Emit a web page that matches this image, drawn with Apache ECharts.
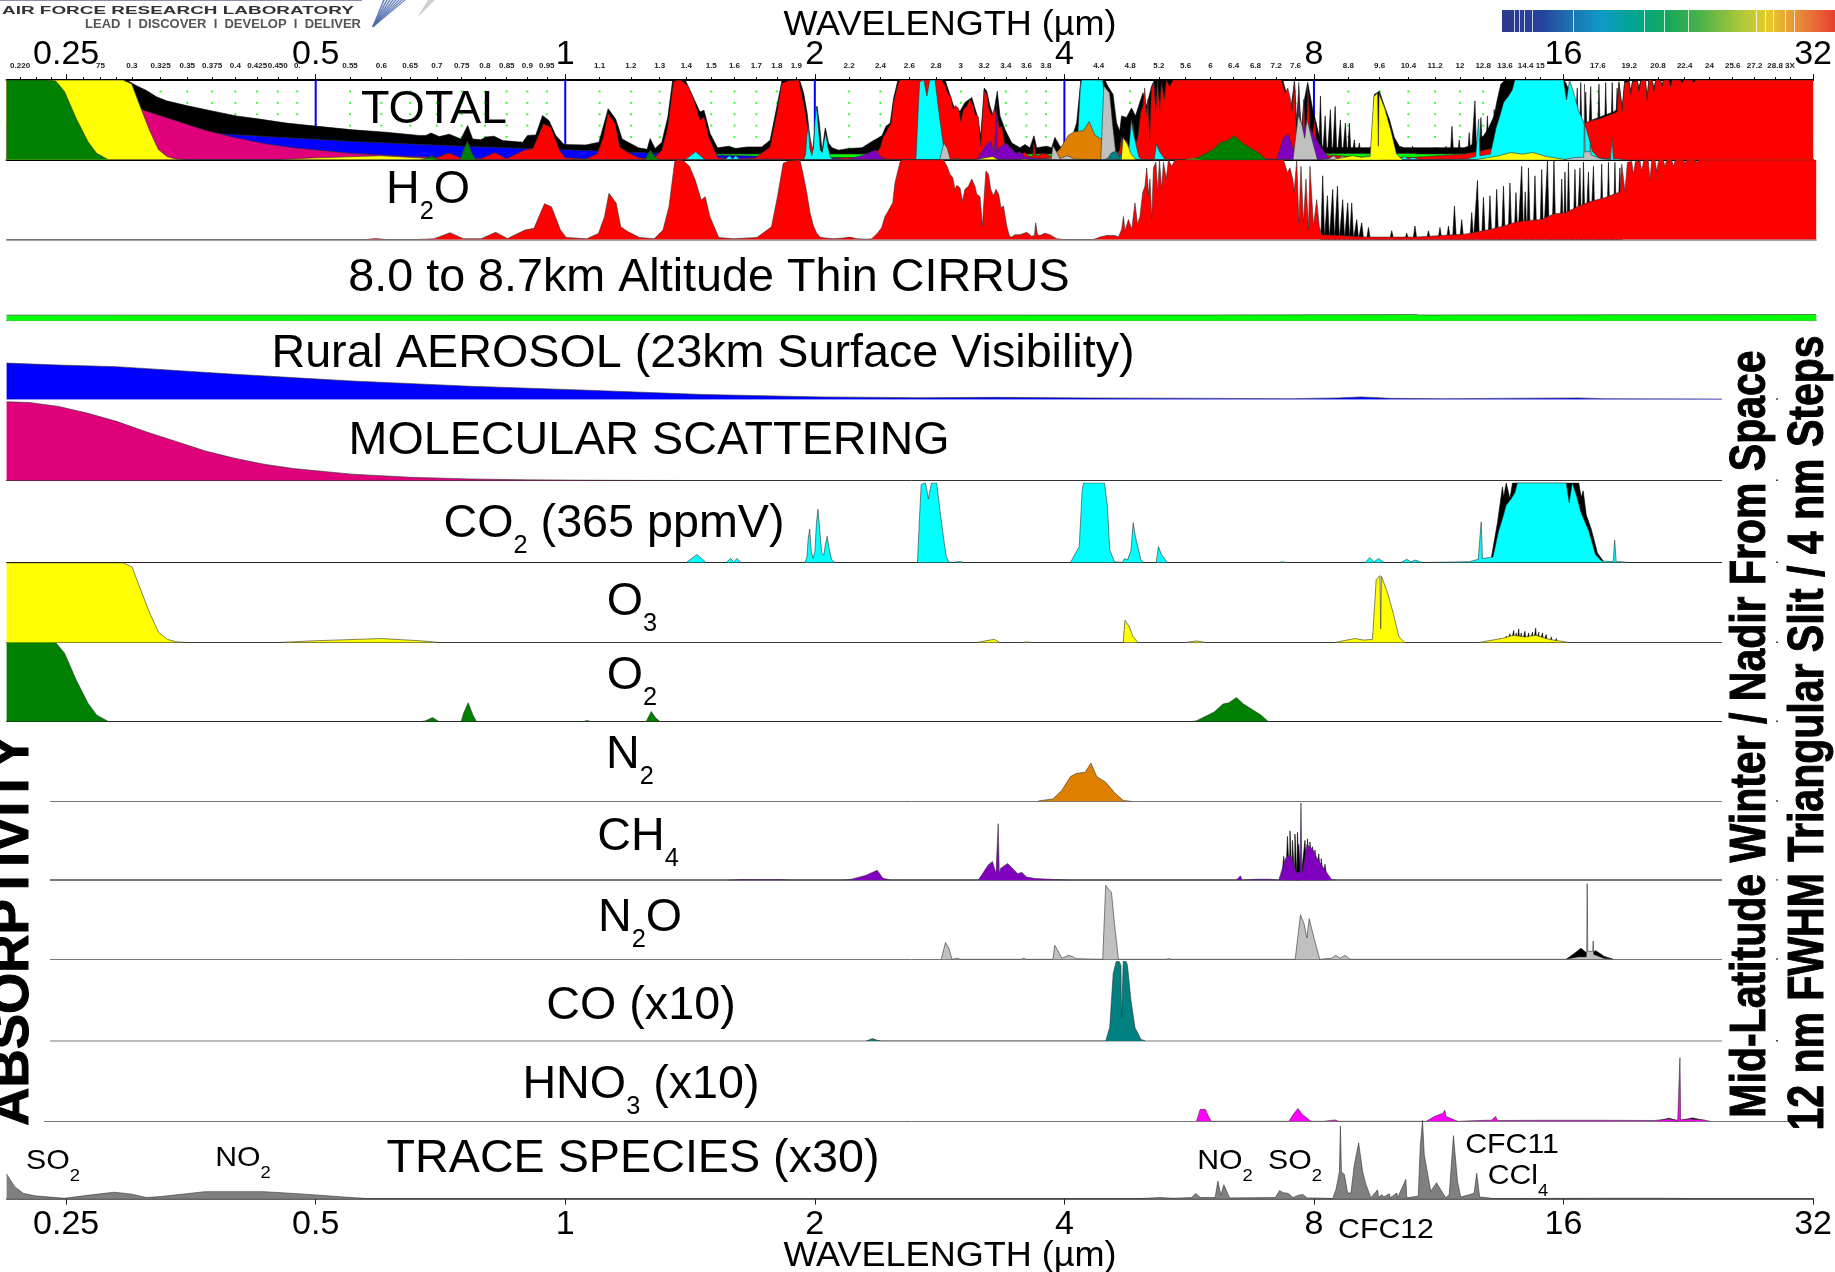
<!DOCTYPE html>
<html><head><meta charset="utf-8"><title>Atmospheric absorptivity</title>
<style>html,body{margin:0;padding:0;background:#fff}#c{width:1835px;height:1272px}</style>
<script src="https://cdn.jsdelivr.net/npm/echarts@6/dist/echarts.min.js"></script>
</head><body><div id="c"></div>
<script>
// All spectra: pairs [log2(wavelength in µm), absorptivity 0..1].
const h2oBody=[[-2.2385,0],[-.8,0],[-.763,.012],[-.72,0],[-.6,0],[-.528,.01],[-.465,.085],[-.411,.01],[-.34,.01],[-.282,.09],[-.235,.012],[-.165,.118],[-.129,.14],[-.087,.45],[-.059,.41],[-.023,.118],[0,.025],[.082,.01],[.129,.076],[.153,.286],[.171,.58],[.2,.454],[.218,.16],[.246,.1],[.293,.025],[.352,.01],[.387,.118],[.411,.41],[.434,.98],[.45,1],[.469,.99],[.493,.92],[.516,.748],[.54,.496],[.556,.538],[.575,.286],[.61,.025],[.669,.01],[.763,.025],[.821,.16],[.845,.538],[.868,.958],[.892,.99],[.935,1],[.949,.8],[.962,.59],[.975,.34],[.989,.17],[1.002,.08],[1.015,.03],[1.035,.02],[1.069,.01],[1.109,.02],[1.135,.03],[1.162,.01],[1.202,.004],[1.222,.01],[1.245,.08],[1.262,.15],[1.275,.29],[1.285,.34],[1.295,.4],[1.306,.46],[1.315,.71],[1.335,.97],[1.342,1],[1.509,1],[1.522,.93],[1.535,.82],[1.546,.78],[1.555,.63],[1.562,.68],[1.575,.65],[1.585,.48],[1.595,.63],[1.609,.67],[1.622,.76],[1.635,.67],[1.642,.57],[1.655,.54],[1.665,.17],[1.671,.5],[1.679,.86],[1.689,.82],[1.698,.63],[1.709,.55],[1.719,.63],[1.73,.57],[1.739,.4],[1.749,.42],[1.762,.17],[1.773,.04],[1.782,.03],[1.795,.06],[1.815,.06],[1.842,.09],[1.862,.04],[1.873,.05],[1.878,.21],[1.885,.06],[1.895,.05],[1.915,.08],[1.935,.06],[1.962,.01],[1.989,0],[2.109,0],[2.135,.03],[2.162,.05],[2.195,.05],[2.209,.03],[2.222,.13],[2.229,.29],[2.235,.11],[2.249,.25],[2.262,.13],[2.275,.46],[2.285,.19],[2.295,.29],[2.306,.59],[2.315,.67],[2.322,.9],[2.329,.57],[2.335,.76],[2.342,.25],[2.349,.9],[2.359,.97],[2.366,.59],[2.373,.99],[2.382,.63],[2.389,.97],[2.4,.76],[2.409,1],[2.422,.92],[2.435,1],[2.869,1],[2.885,.84],[2.895,.9],[2.906,.76],[2.912,.61],[2.922,.99],[2.931,.21],[2.939,.92],[2.949,.21],[2.959,.76],[2.969,.13],[2.975,.92],[2.989,.17],[3.002,.5],[3.012,.17],[3.022,.06],[3.1,.05],[3.2,.03],[3.3,.03],[3.4,.03],[3.5,.05],[3.6,.07],[3.65,.1],[3.7,.13],[3.75,.17],[3.8,.22],[3.85,.24],[3.9,.25],[3.95,.32],[4,.34],[4.05,.42],[4.1,.48],[4.15,.52],[4.2,.58],[4.215,.6],[4.222,.95],[4.235,.61],[4.245,.97],[4.262,.98],[4.269,.82],[4.277,.98],[4.295,.99],[4.302,.86],[4.31,.99],[4.328,1],[4.335,.75],[4.342,1],[4.355,1],[4.362,.86],[4.37,1],[4.388,1],[4.395,.92],[4.402,1],[4.422,1],[4.429,.92],[4.436,1],[4.468,1],[4.475,.96],[4.482,1],[4.515,1],[4.522,.97],[4.529,1],[4.608,1],[4.615,.98],[4.622,1],[5,1]];
const h2oStems=[[3.026,.8],[3.045,.55],[3.066,.63],[3.085,.67],[3.106,.5],[3.126,.46],[3.142,.46],[3.162,.25],[3.182,.21],[3.209,.15],[3.302,.11],[3.362,.08],[3.395,.17],[3.449,.11],[3.495,.15],[3.529,.17],[3.553,.42],[3.582,.25],[3.622,.34],[3.645,.74],[3.669,.53],[3.695,.55],[3.722,.63],[3.749,.67],[3.775,.71],[3.799,.59],[3.822,.92],[3.836,.6],[3.849,.9],[3.875,.8],[3.902,.88],[3.925,.99],[3.951,.99],[3.982,.76],[3.995,.85],[4.009,.97],[4.035,.88],[4.055,.9],[4.069,.97],[4.089,.85],[4.109,.92],[4.142,.95],[4.169,.97],[4.195,.97],[4.215,.9]];
const total=[[-2.2385,1],[-1.785,1],[-1.752,.99],[-1.718,.93],[-1.678,.87],[-1.638,.79],[-1.598,.74],[-1.518,.68],[-1.411,.61],[-1.318,.55],[-1.225,.51],[-1.118,.46],[-1.011,.425],[-.851,.375],[-.718,.345],[-.585,.305],[-.558,.305],[-.538,.335],[-.505,.29],[-.465,.32],[-.418,.26],[-.391,.43],[-.371,.26],[-.338,.25],[-.318,.285],[-.285,.295],[-.251,.24],[-.171,.22],[-.151,.305],[-.118,.31],[-.091,.555],[-.065,.49],[-.038,.305],[-.005,.19],[.082,.185],[.135,.22],[.172,.64],[.202,.51],[.228,.26],[.293,.15],[.328,.13],[.34,.265],[.36,.14],[.387,.22],[.411,.535],[.43,.99],[.481,1],[.516,.76],[.54,.6],[.556,.62],[.58,.33],[.61,.15],[.657,.17],[.681,.14],[.728,.16],[.787,.16],[.821,.245],[.845,.62],[.868,.99],[.939,1],[.955,.84],[.969,.59],[.982,.23],[.991,.07],[1.009,.67],[1.018,.46],[1.029,.11],[1.042,.4],[1.055,.21],[1.069,.15],[1.095,.12],[1.135,.14],[1.189,.15],[1.229,.23],[1.269,.3],[1.285,.42],[1.302,.46],[1.315,.76],[1.333,1],[1.522,1],[1.549,.74],[1.559,.65],[1.582,.61],[1.602,.72],[1.629,.78],[1.649,.57],[1.665,.3],[1.679,.9],[1.689,.86],[1.702,.67],[1.715,.55],[1.731,.86],[1.742,.55],[1.762,.38],[1.789,.21],[1.822,.15],[1.842,.19],[1.862,.15],[1.878,.3],[1.889,.15],[1.929,.17],[1.949,.15],[1.962,.28],[1.982,.17],[1.995,.13],[2.022,.19],[2.049,.46],[2.066,1],[2.162,1],[2.175,.92],[2.195,.82],[2.209,.46],[2.222,.36],[2.229,.55],[2.249,.53],[2.269,.65],[2.285,.55],[2.302,.72],[2.315,.84],[2.329,.67],[2.349,.92],[2.359,.99],[2.435,1],[2.875,1],[2.889,.84],[2.909,.67],[2.922,.99],[2.931,.46],[2.939,.88],[2.949,.38],[2.962,.76],[2.975,.97],[2.995,.63],[3.009,.46],[3.022,.28],[3.035,.15],[3.222,.15],[3.231,.17],[3.242,.82],[3.262,.86],[3.285,.65],[3.302,.51],[3.322,.28],[3.342,.17],[3.362,.15],[3.6,.15],[3.622,.17],[3.64,.2],[3.66,.25],[3.68,.3],[3.7,.4],[3.722,.55],[3.735,.76],[3.749,.95],[3.762,.99],[3.809,1],[4.002,1],[4.022,.88],[4.049,.67],[4.069,.55],[4.089,.3],[4.105,.27],[4.115,.5],[4.2,.6],[4.215,.63],[4.222,.98],[4.235,.65],[4.245,.99],[4.262,1],[4.269,.86],[4.277,1],[4.295,1],[4.302,.9],[4.31,1],[4.328,1],[4.335,.79],[4.342,1],[4.355,1],[4.362,.9],[4.37,1],[4.388,1],[4.395,.95],[4.402,1],[5,1]];
const cirrus=[[-2.2385,.07],[2.58,.072],[2.585,.078],[3.4,.078],[3.41,.072],[3.465,.072],[3.47,.078],[5,.078]];
const aerosol=[[-2.2385,.455],[-2.03,.43],[-1.8,.41],[-1.326,.315],[-.857,.23],[-.387,.165],[.082,.115],[.55,.06],[1.02,.03],[1.415,.02],[1.712,.025],[2.1,.017],[2.9,.008],[3.085,.017],[3.18,.03],[3.296,.012],[3.507,.008],[4.047,.017],[4.153,.008],[4.62,.004],[5,.004]];
const molecular=[[-2.2385,.99],[-2.148,.98],[-2.03,.93],[-1.913,.845],[-1.796,.74],[-1.678,.61],[-1.56,.49],[-1.443,.37],[-1.326,.28],[-1.209,.205],[-1.091,.15],[-.857,.08],[-.622,.04],[-.387,.02],[-.153,.008],[.2,.002],[.5,0]];
const co2=[[.48,0],[.523,.1],[.56,0],[.64,0],[.657,.05],[.67,.01],[.683,.05],[.7,0],[.955,0],[.963,.07],[.968,.3],[.974,.42],[.98,.14],[.988,.05],[.995,.15],[1.001,.5],[1.007,.67],[1.013,.45],[1.022,.12],[1.03,.09],[1.038,.25],[1.044,.33],[1.052,.17],[1.062,.03],[1.075,0],[1.405,0],[1.413,.55],[1.42,.98],[1.427,1],[1.437,1],[1.443,.9],[1.449,.8],[1.455,.9],[1.461,1],[1.482,1],[1.495,.65],[1.512,.25],[1.52,.08],[1.53,.01],[1.54,0],[1.575,.012],[1.59,0],[2.017,0],[2.052,.2],[2.064,.91],[2.069,1],[2.153,1],[2.165,.7],[2.174,.16],[2.193,.01],[2.225,0],[2.233,.05],[2.245,.03],[2.259,.15],[2.268,.5],[2.277,.32],[2.299,.03],[2.31,0],[2.36,0],[2.369,.2],[2.381,.1],[2.404,0],[2.85,0],[2.865,.01],[2.88,0],[3.195,0],[3.214,.06],[3.232,.01],[3.249,.05],[3.272,0],[3.34,0],[3.362,.04],[3.378,.01],[3.397,.03],[3.425,0],[3.613,.01],[3.648,.04],[3.656,.04],[3.66,.51],[3.665,.05],[3.707,.07],[3.73,.4],[3.745,.55],[3.76,.72],[3.78,.8],[3.795,.88],[3.805,1],[4,1],[4.012,.75],[4.024,1],[4.04,.85],[4.06,.62],[4.09,.4],[4.117,.1],[4.141,.02],[4.188,.01],[4.194,.28],[4.2,.01],[4.22,.01],[4.25,0]];
const co2Upper=[[3.7,.05],[3.725,.5],[3.745,.95],[3.75,.82],[3.76,1],[3.775,.8],[3.785,1],[4.05,1],[4.06,.82],[4.068,.9],[4.08,.6],[4.1,.42],[4.125,.12],[4.15,.01]];
const o3=[[-2.2385,1],[-1.772,1],[-1.737,.95],[-1.702,.66],[-1.666,.37],[-1.631,.13],[-1.596,.04],[-1.561,.01],[-1.514,0],[-1.15,0],[-1.021,.02],[-.739,.05],[-.575,.02],[-.505,0],[1.641,0],[1.712,.04],[1.735,0],[1.825,0],[1.841,.008],[1.86,0],[2.2,0],[2.228,0],[2.235,.28],[2.252,.2],[2.268,.07],[2.287,0],[2.475,0],[2.522,.02],[2.56,0],[3.073,0],[3.155,.05],[3.19,.03],[3.225,.04],[3.24,.79],[3.255,.84],[3.258,.17],[3.261,.83],[3.284,.64],[3.308,.37],[3.331,.07],[3.355,0],[3.648,0],[3.742,.05],[3.789,.09],[3.836,.07],[3.878,.09],[3.93,.04],[4.012,0]];
const o3Stems=[[3.735,.05],[3.76,.08],[3.775,.11],[3.79,.15],[3.8,.12],[3.81,.17],[3.82,.12],[3.835,.14],[3.85,.12],[3.865,.13],[3.878,.18],[3.89,.13],[3.905,.12],[3.92,.1],[3.94,.07],[3.96,.05]];
const o2=[[-2.2385,1],[-2.077,1],[-2.042,.99],[-2.007,.86],[-1.96,.52],[-1.913,.23],[-1.878,.08],[-1.831,0],[-.58,0],[-.563,.008],[-.535,.05],[-.509,0],[-.42,0],[-.411,.1],[-.392,.235],[-.373,.08],[-.359,0],[.07,0],[.082,.012],[.1,0],[.32,0],[.34,.125],[.359,.04],[.375,0],[2.5,0],[2.521,.008],[2.592,.12],[2.627,.22],[2.651,.235],[2.681,.3],[2.709,.22],[2.744,.15],[2.78,.08],[2.808,0]];
const n2=[[1.888,.004],[1.947,.03],[1.982,.135],[2.017,.31],[2.04,.35],[2.076,.365],[2.099,.48],[2.122,.31],[2.158,.24],[2.193,.11],[2.228,.01],[2.259,0]];
const ch4=[[.65,0],[.704,.008],[.856,.008],[.9,0],[1.1,0],[1.138,.01],[1.197,.06],[1.244,.125],[1.267,.025],[1.3,0],[1.648,0],[1.688,.19],[1.705,.235],[1.719,.08],[1.725,.09],[1.728,.71],[1.732,.09],[1.738,.15],[1.766,.21],[1.806,.08],[1.822,.1],[1.841,.04],[1.876,.02],[2.02,0],[2.68,0],[2.697,.055],[2.703,0],[2.756,.012],[2.815,.012],[2.85,0],[2.878,.28],[2.897,.32],[2.92,.1],[2.935,.1],[2.939,.97],[2.943,.1],[2.948,.15],[2.963,.45],[2.986,.39],[3.003,.28],[3.026,.17],[3.061,.01],[3.08,0]];
const ch4Stems=[[2.87,.3],[2.885,.55],[2.895,.62],[2.905,.5],[2.915,.58],[2.925,.6],[2.93,.45],[2.955,.5],[2.965,.52],[2.975,.48],[2.985,.42],[2.995,.38],[3.01,.33],[3.02,.27],[3.035,.2]];
const n2o=[[1.5,0],[1.517,.21],[1.531,.14],[1.543,0],[1.564,.013],[1.578,0],[1.82,0],[1.829,.013],[1.84,0],[1.947,0],[1.954,.175],[1.965,.12],[1.982,.013],[2.01,.05],[2.024,.035],[2.04,.008],[2.146,0],[2.158,.93],[2.17,.88],[2.181,.84],[2.193,.45],[2.209,0],[2.4,0],[2.409,.009],[2.42,0],[2.916,0],[2.937,.56],[2.951,.45],[2.963,.27],[2.972,.51],[2.991,.27],[3.014,0],[3.061,.013],[3.078,.05],[3.096,.013],[3.115,.05],[3.136,0],[4,0],[4.047,.03],[4.08,.03],[4.082,.1],[4.084,.95],[4.086,.1],[4.106,.1],[4.108,.23],[4.11,.06],[4.153,.01],[4.19,0]];
const n2oUpper=[[4,0],[4.035,.08],[4.059,.14],[4.082,.08],[4.095,.055],[4.117,.11],[4.153,.035],[4.188,0]];
const co=[[1.2,0],[1.208,.013],[1.225,.03],[1.245,.008],[1.26,0],[2.158,0],[2.174,.17],[2.188,.85],[2.2,1],[2.212,1],[2.219,.95],[2.221,.3],[2.223,.45],[2.228,1],[2.24,1],[2.245,.95],[2.259,.51],[2.275,.17],[2.299,.02],[2.317,0]];
const hno3=[[2.521,0],[2.536,.15],[2.557,.15],[2.568,.07],[2.58,0],[2.89,0],[2.916,.12],[2.927,.16],[2.944,.09],[2.979,0],[3.03,0],[3.038,.017],[3.075,.017],[3.09,0],[3.44,0],[3.472,.06],[3.507,.1],[3.514,.14],[3.52,.06],[3.554,.017],[3.566,0],[3.68,.013],[3.7,.013],[3.718,.06],[3.725,.01],[3.918,.013],[3.99,.013],[4.082,.013],[4.117,.013],[4.352,.01],[4.411,.03],[4.446,.01],[4.452,.01],[4.455,.8],[4.458,.017],[4.493,.03],[4.552,.017],[4.575,0]];
const hno3Upper=[[4.375,.01],[4.411,.038],[4.44,.013],[4.47,.017],[4.505,.043],[4.552,.01]];
const trace=[[-2.2385,.31],[-2.206,.15],[-2.171,.065],[-2.124,.035],[-2.007,.004],[-1.89,.05],[-1.807,.08],[-1.737,.056],[-1.678,.013],[-1.62,.026],[-1.443,.087],[-1.208,.087],[-1.044,.056],[-.857,.013],[-.786,0],[2.3,0],[2.381,.013],[2.44,.004],[2.51,.013],[2.526,.065],[2.545,.013],[2.604,.013],[2.615,.22],[2.627,.043],[2.639,.174],[2.662,.009],[2.845,.013],[2.862,.1],[2.878,.074],[2.897,.065],[2.916,.013],[2.939,.043],[2.956,.052],[2.972,.009],[3.05,.004],[3.075,0],[3.088,.11],[3.095,.22],[3.102,.34],[3.106,.91],[3.11,.34],[3.122,.3],[3.135,.07],[3.148,.07],[3.162,.43],[3.179,.7],[3.195,.34],[3.208,.18],[3.228,.01],[3.255,.11],[3.259,.01],[3.271,.05],[3.28,.02],[3.302,.06],[3.306,.01],[3.332,.07],[3.335,.01],[3.368,.24],[3.372,.01],[3.395,.02],[3.418,.03],[3.426,.66],[3.435,.98],[3.442,.55],[3.448,.53],[3.468,.09],[3.491,.2],[3.508,.11],[3.528,.01],[3.542,.05],[3.559,.79],[3.575,.22],[3.588,.02],[3.625,.05],[3.642,.07],[3.652,.32],[3.664,.02],[3.695,.01],[3.722,0],[4.2,.005],[4.4,.005],[4.5,0],[5,0]];

const majorTicks=[0.25,0.5,1,2,4,8,16,32];
const minorTickValues=[0.22,0.23,0.24,0.2625,0.275,0.2875,0.3,0.325,0.35,0.375,0.4,0.425,0.45,0.475,0.55,0.6,0.65,0.7,0.75,0.8,0.85,0.9,0.95,1.1,1.2,1.3,1.4,1.5,1.6,1.7,1.8,1.9,2.2,2.4,2.6,2.8,3,3.2,3.4,3.6,3.8,4.4,4.8,5.2,5.6,6,6.4,6.8,7.2,7.6,8.8,9.6,10.4,11.2,12,12.8,13.6,14.4,15,17.6,19.2,20.8,22.4,24,25.6,27.2,28.8,30];
const minorLabelValues=[0.22,0.275,0.3,0.325,0.35,0.375,0.4,0.425,0.45,0.475,0.55,0.6,0.65,0.7,0.75,0.8,0.85,0.9,0.95,1.1,1.2,1.3,1.4,1.5,1.6,1.7,1.8,1.9,2.2,2.4,2.6,2.8,3,3.2,3.4,3.6,3.8,4.4,4.8,5.2,5.6,6,6.4,6.8,7.2,7.6,8.8,9.6,10.4,11.2,12,12.8,13.6,14.4,15,17.6,19.2,20.8,22.4,24,25.6,27.2,28.8,30];
const minorLabelText=['0.220','75','0.3','0.325','0.35','0.375','0.4','0.425','0.450','0.','0.55','0.6','0.65','0.7','0.75','0.8','0.85','0.9','0.95','1.1','1.2','1.3','1.4','1.5','1.6','1.7','1.8','1.9','2.2','2.4','2.6','2.8','3','3.2','3.4','3.6','3.8','4.4','4.8','5.2','5.6','6','6.4','6.8','7.2','7.6','8.8','9.6','10.4','11.2','12','12.8','13.6','14.4','15','17.6','19.2','20.8','22.4','24','25.6','27.2','28.8','3X'];
const blueLines=[0.5,1,2,4,8];
const dotRows=[1/7,2/7,3/7,4/7,5/7,6/7];

const XMIN=Math.pow(2,-2.2385), XMAX=32;
const toXY=(pts,k)=>pts.map(p=>[Math.pow(2,p[0]),p[1]*(k||1)]);
// narrow unresolved lines: each one drawn as a sharp spike from the axis
const stems=(list,w)=>{const out=[];list.forEach(p=>out.push([p[0]-w,0],[p[0],p[1]],[p[0]+w,0]));return out;};
const h2oStemPts=stems(h2oStems,.0075), o3StemPts=stems(o3Stems,.004), ch4StemPts=stems(ch4Stems,.0085);
const C={h2o:'#ff0000',co2:'#00ffff',o3:'#ffff00',o2:'#008000',n2:'#e08000',ch4:'#8000c0',n2o:'#c0c0c0',co:'#008080',hno3:'#ff00ff',trace:'#808080',mol:'#e0007c',aer:'#0000ff',cir:'#00ff00'};
// panels: baseline pixel, axis-line colour/width, area layers back to front [points,colour,factor]
const panels=[
 {base:159.7,line:'#000',w:2,layers:[[total,'#000'],[h2oStemPts,'#000'],[cirrus,C.cir],[aerosol,C.aer],[molecular,C.mol],[h2oBody,C.h2o],[co2,C.co2],[n2,C.n2],[ch4,C.ch4],[n2o,C.n2o],[co,C.co,.1],[o3,C.o3],[o2,C.o2]]},
 {base:239.5,line:'#888',w:1.5,layers:[[h2oStemPts,'#000'],[h2oBody,C.h2o]]},
 {base:320.7,line:'#888',w:1,layers:[[cirrus,C.cir]]},
 {base:399.3,line:'#aaf',w:1,layers:[[aerosol,C.aer]]},
 {base:480.5,line:'#333',w:1,layers:[[molecular,C.mol]]},
 {base:562.5,line:'#222',w:1.2,layers:[[co2Upper,'#000'],[co2,C.co2]]},
 {base:642.5,line:'#444',w:1.2,layers:[[o3StemPts,'#000'],[o3,C.o3]]},
 {base:721.5,line:'#222',w:1.2,layers:[[o2,C.o2]]},
 {base:801.3,line:'#777',w:1,layers:[[n2,C.n2]]},
 {base:880.2,line:'#777',w:2,layers:[[ch4StemPts,'#000'],[ch4,C.ch4]]},
 {base:959.3,line:'#777',w:1,layers:[[n2oUpper,'#000'],[n2o,C.n2o]]},
 {base:1041,line:'#bbb',w:2,layers:[[co,C.co]]},
 {base:1121.3,line:'#777',w:1,layers:[[hno3Upper,'#000'],[hno3,C.hno3]]},
 {base:1198.6,line:'#333',w:1.5,layers:[[trace,C.trace]]}
];
const H=79.6;
const grids=[],xAxes=[],yAxes=[],series=[];
panels.forEach((p,i)=>{
  grids.push({left:6.6,right:18.8,top:p.base-H,height:H});
  const last=i===panels.length-1;
  xAxes.push({type:'log',logBase:2,gridIndex:i,min:XMIN,max:XMAX,position:'bottom',
    axisLine:{show:true,onZero:false,lineStyle:{color:p.line,width:p.w}},
    axisTick:{show:last,customValues:majorTicks,length:6,inside:false,lineStyle:{color:'#222'}},
    minorTick:{show:false},splitLine:{show:false},
    axisLabel:{show:last,customValues:majorTicks,fontFamily:'Liberation Sans',fontSize:34,color:'#000',margin:9,formatter:v=>String(+(+v).toFixed(2))}});
  yAxes.push({type:'value',gridIndex:i,min:0,max:1,show:false,splitLine:{show:false}});
  p.layers.forEach((l,k)=>{
    series.push({type:'line',xAxisIndex:i,yAxisIndex:i,data:toXY(l[0],l[2]),showSymbol:false,silent:true,animation:false,z:3+k,
      lineStyle:{color:l[1]==='#000'?'#000':'#333',width:.6},areaStyle:{color:l[1],opacity:1},itemStyle:{color:l[1]}});
  });
});
// TOTAL panel decorations behind the spectra
const dots=[];minorTickValues.filter(v=>v>=0.325).forEach(v=>dotRows.forEach(r=>dots.push([v,r])));
series.push({type:'scatter',xAxisIndex:0,yAxisIndex:0,data:dots,symbol:'rect',symbolSize:2,silent:true,z:1,itemStyle:{color:'#00ff00'}});
const blue=[];blueLines.forEach(v=>{blue.push([v,0],[v,1],[v,null]);});
series.push({type:'line',xAxisIndex:0,yAxisIndex:0,data:blue,showSymbol:false,connectNulls:false,silent:true,z:2,lineStyle:{color:'#0000ff',width:2}});
// extra top axes of the TOTAL panel
const labelOf=v=>{let b=0,d=1e9;minorLabelValues.forEach((t,i)=>{const e=Math.abs(Math.log2(v/t));if(e<d){d=e;b=i;}});return minorLabelText[b];};
const topBase={type:'log',logBase:2,gridIndex:0,min:XMIN,max:XMAX,position:'top',splitLine:{show:false},minorTick:{show:false}};
xAxes.push(Object.assign({},topBase,{
  axisLine:{show:true,onZero:false,lineStyle:{color:'#000',width:2}},
  axisTick:{show:true,customValues:minorTickValues,length:3,lineStyle:{color:'#000'}},
  axisLabel:{show:true,customValues:minorLabelValues,fontFamily:'Liberation Sans',fontSize:8,fontWeight:'bold',color:'#222',margin:10,hideOverlap:false,formatter:labelOf}}));
xAxes.push(Object.assign({},topBase,{
  axisLine:{show:false,onZero:false},
  axisTick:{show:true,customValues:majorTicks,length:6,lineStyle:{color:'#000'}},
  axisLabel:{show:true,customValues:majorTicks,fontFamily:'Liberation Sans',fontSize:34,color:'#000',margin:8,formatter:v=>String(+(+v).toFixed(2))}}));

// --- text ---
const FF='"Liberation Sans",Arial,sans-serif';
const sub=(size,lh)=>({fontFamily:FF,fontSize:size,lineHeight:lh,fill:'#000',verticalAlign:'bottom'});
const richBase={m:{fontFamily:FF,fontSize:46,lineHeight:50,fill:'#000',verticalAlign:'top'},s:sub(25,58)};
const richSmall={m:{fontFamily:FF,fontSize:28,lineHeight:30,fill:'#000',verticalAlign:'top'},s:sub(17,38)};
// [text, centre x, y]
const labels=[
 ['{m|TOTAL}',434,112],['{m|H}{s|2}{m|O}',428,196],['{m|8.0 to 8.7km Altitude Thin CIRRUS}',709,280],
 ['{m|Rural AEROSOL (23km Surface Visibility)}',703,356],['{m|MOLECULAR SCATTERING}',649,443],
 ['{m|CO}{s|2}{m| (365 ppmV)}',614,530],['{m|O}{s|3}',632,608],['{m|O}{s|2}',632,682],['{m|N}{s|2}',630,761],
 ['{m|CH}{s|4}',638,843],['{m|N}{s|2}{m|O}',640,924],['{m|CO (x10)}',641,1008],['{m|HNO}{s|3}{m| (x10)}',641,1091],
 ['{m|TRACE SPECIES (x30)}',633,1161]];
const smallLabels=[
 ['{m|SO}{s|2}',53,1166],['{m|NO}{s|2}',243,1163],['{m|NO}{s|2}',1225,1166],['{m|SO}{s|2}',1295,1166],
 ['{m|CFC11}',1512,1146],['{m|CCl}{s|4}',1518,1181],['{m|CFC12}',1386,1231]];
const g=[];
const txt=(t,x,y,rich,sx)=>g.push({type:'text',x,y,scaleX:sx,z:100,silent:true,style:{text:t,rich,textAlign:'center',textVerticalAlign:'middle',fill:'#000'}});
labels.forEach(l=>txt(l[0],l[1],l[2],richBase,1.015));
smallLabels.forEach(l=>txt(l[0],l[1],l[2],richSmall,1.08));
const plain=(t,x,y,font,opts,stroke)=>g.push(Object.assign({type:'text',x,y,z:100,silent:true,style:{text:t,font,fill:'#000',stroke:stroke?'#000':undefined,lineWidth:stroke||0,textAlign:'center',textVerticalAlign:'middle'}},opts||{}));
// white masks where the original's side captions sit
g.push({type:'rect',z:50,silent:true,shape:{x:1722,y:323,width:113,height:796},style:{fill:'#fff'}});
g.push({type:'rect',z:50,silent:true,shape:{x:0,y:725,width:50,height:392},style:{fill:'#fff'}});
g.push({type:'rect',z:50,silent:true,shape:{x:0,y:1117,width:44,height:7},style:{fill:'#fff'}});
panels.slice(3,12).forEach(p=>g.push({type:'rect',z:60,silent:true,shape:{x:1776,y:p.base-1,width:2,height:1.4},style:{fill:'#444'}}));
plain('WAVELENGTH (µm)',950,25,'35px '+FF,{scaleX:1.03});
plain('WAVELENGTH (µm)',950,1256,'35px '+FF,{scaleX:1.03});
plain('ABSORPTIVITY',13,930,'bold 53px '+FF,{rotation:Math.PI/2},1);
plain('Mid-Latitude Winter / Nadir From Space',1751,734,'bold 50px '+FF,{rotation:Math.PI/2,scaleX:.82},1);
plain('12 nm FWHM Triangular Slit / 4 nm Steps',1809,733,'bold 50px '+FF,{rotation:Math.PI/2,scaleX:.82},1);
// laboratory banner
g.push({type:'rect',silent:true,shape:{x:0,y:0,width:362,height:1},style:{fill:'#8a8fa8'}});
g.push({type:'text',x:2,y:11,scaleX:1.72,silent:true,style:{text:'AIR FORCE RESEARCH LABORATORY',font:'bold 11px '+FF,fill:'#333',textVerticalAlign:'middle'}});
g.push({type:'text',x:361,y:24,silent:true,style:{text:'LEAD  I  DISCOVER  I  DEVELOP  I  DELIVER',font:'bold 13px '+FF,fill:'#555',textAlign:'right',textVerticalAlign:'middle'}});
[383,386,389,392,395,398,401,404].forEach(w=>g.push({type:'polygon',silent:true,shape:{points:[[372,27],[373.5,27],[w+1.8,0],[w,0]]},style:{fill:'#4a68ad',opacity:.8}}));
g.push({type:'polygon',silent:true,shape:{points:[[418,16],[420,15],[435,0],[428,0]]},style:{fill:'#cfcfcf'}});
// spectrum colour bar
g.push({type:'rect',silent:true,shape:{x:1502,y:10,width:333,height:22},style:{fill:{type:'linear',x:0,y:0,x2:1,y2:0,colorStops:[
 {offset:0,color:'#2d3990'},{offset:.12,color:'#26439c'},{offset:.2,color:'#1e70ae'},{offset:.3,color:'#0e9ac8'},{offset:.4,color:'#00a68c'},{offset:.5,color:'#16a85a'},{offset:.6,color:'#4fb348'},{offset:.72,color:'#b0c83a'},{offset:.8,color:'#e6cb2a'},{offset:.9,color:'#e8863a'},{offset:1,color:'#e83e30'}]}}});
[1514,1519,1524,1532,1573,1644,1664,1688,1756,1765,1773,1785,1794].forEach(x=>g.push({type:'rect',silent:true,shape:{x,y:10,width:1,height:22},style:{fill:'#fff',opacity:.75}}));

const chart=echarts.init(document.getElementById('c'),null,{renderer:'canvas'});
chart.setOption({animation:false,backgroundColor:'#fff',grid:grids,xAxis:xAxes,yAxis:yAxes,series:series,graphic:{elements:g}});
</script></body></html>
